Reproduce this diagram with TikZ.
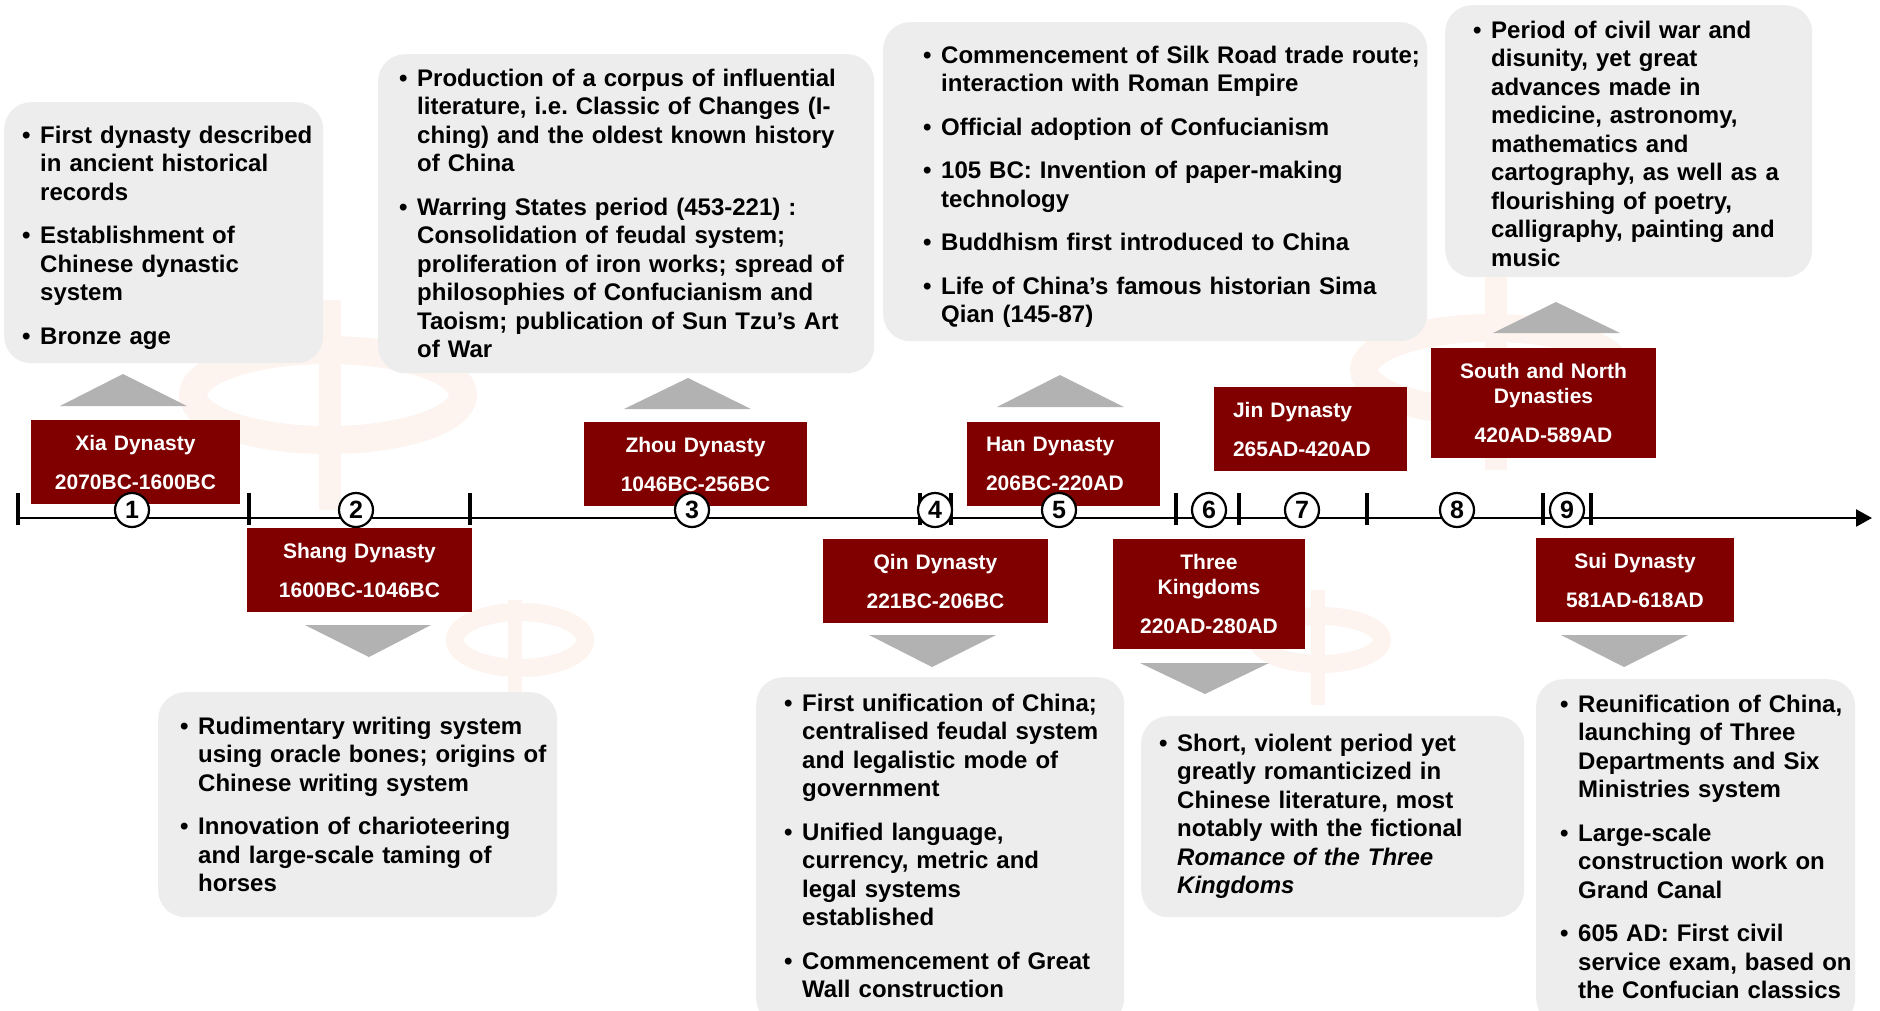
\documentclass[tikz,border=0pt]{standalone}
\usepackage{fontspec}
\setmainfont{Liberation Sans}
\usetikzlibrary{arrows.meta,positioning}
\frenchspacing

\definecolor{dynred}{HTML}{800000}
\definecolor{infogray}{HTML}{EDEDED}
\definecolor{ptrgray}{HTML}{B2B2B2}
\definecolor{wmcol}{HTML}{FEF4EF}

\newlength\bhang
\setlength\bhang{18pt}
\newcommand\itm[1]{\begingroup\let\\\newline\hangindent=\bhang\hangafter=1\noindent\makebox[\bhang][l]{\textbullet}\strut#1\par\endgroup\vspace{15pt}}

\begin{document}
\begin{tikzpicture}[x=1pt,y=-1pt,
	    dynblock/.style= {
	        fill=dynred, text=white, inner sep=0pt, align=center,
	        font=\fontsize{21}{25}\selectfont\bfseries},
	    infoblock/.style= {
	        fill=infogray, rounded corners=27pt, inner sep=0pt, anchor=north west},
	    infotext/.style= {
	        anchor=north west, inner sep=0pt, text width=520pt,
	        font=\fontsize{24}{28.5}\selectfont\bfseries},
	    numblock/.style= {
	        circle, draw, fill=white, line width=2.2pt, minimum size=34pt,
	        inner sep=0pt, font=\fontsize{25}{25}\selectfont\bfseries},
	    ptr/.style={fill=ptrgray},
	    tickmark/.style={line width=4pt},
	    wmark/.style={draw=wmcol}]

		\useasboundingbox (0,0) rectangle (1880,1010);
		\fill[white] (0,0) rectangle (1880,1010);

		% Watermark
		\draw[wmark,line width=28pt] (328,395) ellipse [x radius=135, y radius=45];
		\draw[wmark,line width=22pt] (330,300) -- (330,510);
		\draw[wmark,line width=28pt] (1491,370) ellipse [x radius=127, y radius=42];
		\draw[wmark,line width=22pt] (1496,270) -- (1496,470);
		\draw[wmark,line width=18pt] (520,640) ellipse [x radius=65, y radius=28];
		\draw[wmark,line width=14pt] (515,600) -- (515,705);
		\draw[wmark,line width=18pt] (1320,640) ellipse [x radius=62, y radius=24];
		\draw[wmark,line width=14pt] (1318,590) -- (1318,705);

		% Info blocks
		\node [infoblock,minimum width=319pt,minimum height=261pt] (xiainfo) at (4,102) {};
		\node [infoblock,minimum width=496pt,minimum height=319pt] (zhouinfo) at (378,54) {};
		\node [infoblock,minimum width=544pt,minimum height=319pt] (haninfo) at (883,22) {};
		\node [infoblock,minimum width=367pt,minimum height=272pt] (sninfo) at (1445,5) {};
		\node [infoblock,minimum width=399pt,minimum height=225pt] (shanginfo) at (158,692) {};
		\node [infoblock,minimum width=368pt,minimum height=348pt] (qininfo) at (756,677) {};
		\node [infoblock,minimum width=383pt,minimum height=201pt] (threekinfo) at (1141,716) {};
		\node [infoblock,minimum width=319pt,minimum height=346pt] (suiinfo) at (1536,679) {};

		% Info texts
		\node [infotext] (xiatext) at (22,123) {%
		    \itm{First dynasty described\\ in ancient historical\\ records}%
		    \itm{Establishment of\\ Chinese dynastic\\ system}%
		    \itm{Bronze age}};
		\node [infotext] (zhoutext) at (399,66) {%
		    \itm{Production of a corpus of influential\\ literature, i.e. Classic of Changes (I-\\ ching) and the oldest known history\\ of China}%
		    \itm{Warring States period (453-221) :\\ Consolidation of feudal system;\\ proliferation of iron works; spread of\\ philosophies of Confucianism and\\ Taoism; publication of Sun Tzu’s Art\\ of War}};
		\node [infotext] (hantext) at (923,43) {%
		    \itm{Commencement of Silk Road trade route;\\ interaction with Roman Empire}%
		    \itm{Official adoption of Confucianism}%
		    \itm{105 BC: Invention of paper-making\\ technology}%
		    \itm{Buddhism first introduced to China}%
		    \itm{Life of China’s famous historian Sima\\ Qian (145-87)}};
		\node [infotext] (sntext) at (1473,18) {%
		    \itm{Period of civil war and\\ disunity, yet great\\ advances made in\\ medicine, astronomy,\\ mathematics and\\ cartography, as well as a\\ flourishing of poetry,\\ calligraphy, painting and\\ music}};
		\node [infotext] (shangtext) at (180,714) {%
		    \itm{Rudimentary writing system\\ using oracle bones; origins of\\ Chinese writing system}%
		    \itm{Innovation of charioteering\\ and large-scale taming of\\ horses}};
		\node [infotext] (qintext) at (784,691) {%
		    \itm{First unification of China;\\ centralised feudal system\\ and legalistic mode of\\ government}%
		    \itm{Unified language,\\ currency, metric and\\ legal systems\\ established}%
		    \itm{Commencement of Great\\ Wall construction}};
		\node [infotext] (threektext) at (1159,731) {%
		    \itm{Short, violent period yet\\ greatly romanticized in\\ Chinese literature, most\\ notably with the fictional\\ \textit{Romance of the Three}\\ \textit{Kingdoms}}};
		\node [infotext] (suitext) at (1560,692) {%
		    \itm{Reunification of China,\\ launching of Three\\ Departments and Six\\ Ministries system}%
		    \itm{Large-scale\\ construction work on\\ Grand Canal}%
		    \itm{605 AD: First civil\\ service exam, based on\\ the Confucian classics}};

		% Pointers
		\fill[ptr] (60,406) -- (123,374) -- (187,406) -- cycle;
		\fill[ptr] (624,409) -- (688,378) -- (751,409) -- cycle;
		\fill[ptr] (997,407) -- (1060,375) -- (1124,407) -- cycle;
		\fill[ptr] (1493,333) -- (1556,302) -- (1620,333) -- cycle;
		\fill[ptr] (305,625) -- (369,657) -- (431,625) -- cycle;
		\fill[ptr] (869,635) -- (932,667) -- (996,635) -- cycle;
		\fill[ptr] (1140,663) -- (1205,694) -- (1269,663) -- cycle;
		\fill[ptr] (1561,635) -- (1624,667) -- (1688,635) -- cycle;

		% Timeline
		\coordinate (tlstart) at (18,518);
		\coordinate (tlend) at (1872,518);
		\draw[line width=2.5pt,-{Triangle[length=16pt,width=17pt]}] (tlstart) -- (tlend);
		\foreach \x in {18,249,470,920,951,1176,1239,1367,1543,1591}
		    \draw[tickmark] (\x,493) -- (\x,525);

		% Dynasties
		\node [dynblock,minimum width=209pt,minimum height=84pt,text width=209pt] (xia) at (135.5,462) {Xia Dynasty\\[14pt]2070BC-1600BC};
		\node [dynblock,minimum width=225pt,minimum height=84pt,text width=225pt] (shang) at (359.5,570) {Shang Dynasty\\[14pt]1600BC-1046BC};
		\node [dynblock,minimum width=223pt,minimum height=84pt,text width=223pt] (zhou) at (695.5,464) {Zhou Dynasty\\[14pt]1046BC-256BC};
		\node [dynblock,minimum width=225pt,minimum height=84pt,text width=225pt] (qin) at (935.5,581) {Qin Dynasty\\[14pt]221BC-206BC};
		\node [dynblock,align=left,minimum width=193pt,minimum height=84pt,text width=155pt] (han) at (1063.5,464) {Han Dynasty\\[14pt]206BC-220AD};
		\node [dynblock,minimum width=192pt,minimum height=110pt,text width=192pt] (threek) at (1209,594) {Three\\Kingdoms\\[14pt]220AD-280AD};
		\node [dynblock,align=left,minimum width=193pt,minimum height=84pt,text width=155pt] (jin) at (1310.5,429) {Jin Dynasty\\[14pt]265AD-420AD};
		\node [dynblock,minimum width=225pt,minimum height=110pt,text width=225pt] (sn) at (1543.5,403) {South and North\\Dynasties\\[14pt]420AD-589AD};
		\node [dynblock,minimum width=198pt,minimum height=84pt,text width=198pt] (sui) at (1635,580) {Sui Dynasty\\[14pt]581AD-618AD};

		% Numbers
		\foreach \x [count=\i] in {132,356,692,935,1059,1209,1302,1457,1567}
		    \node [numblock] (n\i) at (\x,510) {\i};

	\end{tikzpicture}
\end{document}
